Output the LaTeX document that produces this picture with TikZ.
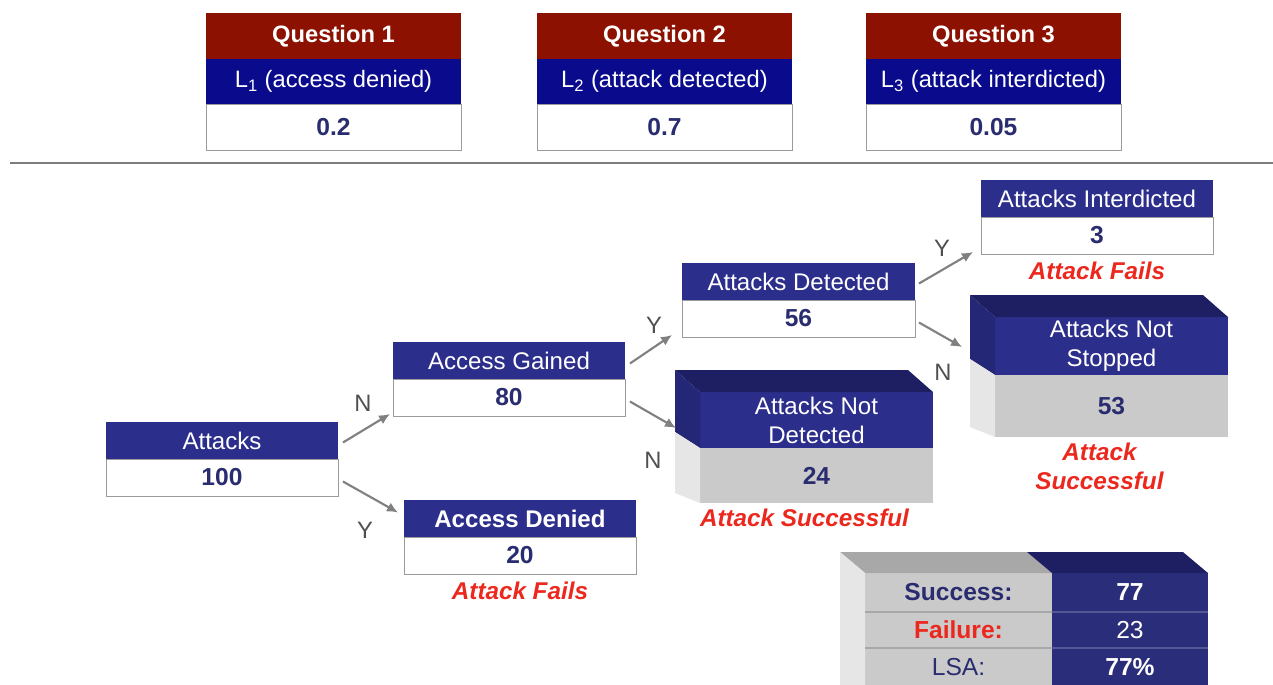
\documentclass[tikz,border=0pt]{standalone}
\usepackage{fontspec}
\setmainfont{Liberation Sans}
\usetikzlibrary{arrows.meta,positioning,calc}

\definecolor{qred}{RGB}{140,17,0}
\definecolor{qblue}{RGB}{10,10,140}
\definecolor{navy}{RGB}{44,46,140}
\definecolor{sumnavy}{RGB}{42,45,122}
\definecolor{navytop}{RGB}{30,31,98}
\definecolor{navyside}{RGB}{36,38,118}
\definecolor{txtnavy}{RGB}{42,44,112}
\definecolor{grayfront}{RGB}{202,202,202}
\definecolor{grayside}{RGB}{230,230,230}
\definecolor{graytop}{RGB}{168,168,168}
\definecolor{linegray}{RGB}{155,155,155}
\definecolor{arrowgray}{RGB}{128,128,128}
\definecolor{ynlabel}{RGB}{80,80,80}
\definecolor{failred}{RGB}{236,40,30}

\tikzset{
  cell/.style={inner sep=0pt, outer sep=0pt, align=center},
  qhead/.style={cell, fill=qred, text=white, font=\fontsize{13.5}{15}\selectfont\bfseries,
    minimum width=5.1cm, minimum height=0.92cm},
  qlab/.style={cell, fill=qblue, text=white, font=\fontsize{13.5}{15}\selectfont,
    minimum width=5.1cm, minimum height=0.9cm},
  qval/.style={cell, fill=white, draw=linegray, text=txtnavy, font=\fontsize{14}{15}\selectfont\bfseries,
    minimum width=5.1cm, minimum height=0.92cm},
  hd/.style={cell, fill=navy, text=white, font=\fontsize{13.7}{16.4}\selectfont,
    minimum width=4.64cm, minimum height=0.74cm},
  val/.style={cell, fill=white, draw=linegray, text=txtnavy, font=\fontsize{14}{16}\selectfont\bfseries,
    minimum width=4.64cm, minimum height=0.74cm},
  front/.style={cell, fill=navy, text=white, font=\fontsize{13.7}{16.4}\selectfont,
    minimum width=4.66cm},
  frontval/.style={cell, fill=grayfront, text=txtnavy, font=\fontsize{14}{16}\selectfont\bfseries,
    minimum width=4.66cm},
  sumlab/.style={cell, fill=grayfront, font=\fontsize{14}{16}\selectfont, minimum width=3.74cm},
  sumval/.style={cell, fill=sumnavy, text=white, font=\fontsize{14}{16}\selectfont, minimum width=3.12cm},
  link/.style={->, draw=arrowgray, line width=1.2pt},
  yn/.style={text=ynlabel, font=\fontsize{13.5}{15}\selectfont},
  fails/.style={text=failred, font=\fontsize{13.8}{16.4}\selectfont\bfseries\itshape, align=center},
}

\begin{document}
\begin{tikzpicture}[x=0.02cm, y=-0.02cm, >={Latex[length=2.2mm,width=2mm]}]
\useasboundingbox[fill=white] (0,0) rectangle (1273,684);

% question boxes
\foreach \x/\i/\lab/\val in {206/1/access denied/0.2, 537/2/attack detected/0.7, 866/3/attack interdicted/0.05}{
  \node[qhead, anchor=north west] (q\i) at (\x,13) {Question \i};
  \node[qlab, below=0pt of q\i] (q\i-l) {L\textsubscript{\i} (\lab)};
  \node[qval, below=0pt of q\i-l] (q\i-v) {\val};
}
\draw[linegray!80!black, line width=1.4pt] (10,163) -- (1273,163);

% tree boxes
\node[hd, anchor=north west] (att) at (106,422) {Attacks};
\node[val, below=0pt of att] (att-v) {100};
\node[hd, anchor=north west] (gain) at (393,342) {Access Gained};
\node[val, below=0pt of gain] (gain-v) {80};
\node[hd, anchor=north west, font=\fontsize{13.7}{16}\selectfont\bfseries] (deny) at (404,500) {Access Denied};
\node[val, below=0pt of deny] (deny-v) {20};
\node[fails, below=1pt of deny-v] (deny-f) {Attack Fails};
\node[hd, anchor=north west, minimum width=4.66cm] (det) at (682,263) {Attacks Detected};
\node[val, below=0pt of det, minimum width=4.66cm] (det-v) {56};
\node[hd, anchor=north west] (intd) at (981,180) {Attacks Interdicted};
\node[val, below=0pt of intd] (intd-v) {3};
\node[fails, below=1pt of intd-v] (intd-f) {Attack Fails};

% 3d boxes
\node[front, anchor=north west, minimum height=1.12cm] (nd) at (700,392) {Attacks Not\\Detected};
\node[frontval, below=0pt of nd, minimum height=1.1cm] (nd-v) {24};
\fill[navytop] (nd.north west) -- ++(-25,-22) -- ($(nd.north east)+(-25,-22)$) -- (nd.north east) -- cycle;
\fill[navyside] (nd.north west) -- ++(-25,-22) -- ($(nd.south west)+(-25,-16)$) -- (nd.south west) -- cycle;
\fill[grayside] (nd.south west) -- ++(-25,-16) -- ($(nd-v.south west)+(-25,-10)$) -- (nd-v.south west) -- cycle;
\node[fails, below=0pt of nd-v, xshift=-0.24cm] (nd-f) {Attack Successful};

\node[front, anchor=north west, minimum height=1.16cm] (ns) at (995,317) {Attacks Not\\Stopped};
\node[frontval, below=0pt of ns, minimum height=1.24cm] (ns-v) {53};
\fill[navytop] (ns.north west) -- ++(-25,-22) -- ($(ns.north east)+(-25,-22)$) -- (ns.north east) -- cycle;
\fill[navyside] (ns.north west) -- ++(-25,-22) -- ($(ns.south west)+(-25,-16)$) -- (ns.south west) -- cycle;
\fill[grayside] (ns.south west) -- ++(-25,-16) -- ($(ns-v.south west)+(-25,-10)$) -- (ns-v.south west) -- cycle;
\node[fails, below=0pt of ns-v, xshift=-0.24cm] (ns-f) {Attack\\Successful};

% summary
\node[sumlab, anchor=north west, minimum height=0.78cm, text=txtnavy, font=\fontsize{14}{16}\selectfont\bfseries] (s1) at (865,573) {Success:};
\node[sumval, right=0pt of s1, minimum height=0.78cm, font=\fontsize{14}{16}\selectfont\bfseries] (s1-v) {77};
\node[sumlab, below=0pt of s1, minimum height=0.72cm, text=failred, font=\fontsize{14}{16}\selectfont\bfseries] (s2) {Failure:};
\node[sumval, right=0pt of s2, minimum height=0.72cm] (s2-v) {23};
\node[sumlab, below=0pt of s2, minimum height=0.76cm, text=txtnavy] (s3) {LSA:};
\node[sumval, right=0pt of s3, minimum height=0.76cm, font=\fontsize{14}{16}\selectfont\bfseries] (s3-v) {77\%};
\fill[graytop] (s1.north west) -- ++(-25,-21) -- ($(s1.north east)+(-25,-21)$) -- (s1.north east) -- cycle;
\fill[navytop] (s1-v.north west) -- ++(-25,-21) -- ($(s1-v.north east)+(-25,-21)$) -- (s1-v.north east) -- cycle;
\fill[grayside] (s1.north west) -- ++(-25,-21) -- ($(s3.south west)+(-25,0)$) -- (s3.south west) -- cycle;
\draw[graytop, line width=0.6pt] (s1.south west) -- (s1.south east) (s2.south west) -- (s2.south east);
\draw[sumnavy!80!white, line width=0.6pt] (s1-v.south west) -- (s1-v.south east) (s2-v.south west) -- (s2-v.south east);

% connectors
\draw[link] ($(att.east)+(5,2)$) -- ($(gain-v.south west)+(-3,-2)$);
\draw[link] ($(att-v.east)+(5,4)$) -- ($(deny.west)+(-6,-6)$);
\draw[link] ($(gain.east)+(5,3)$) -- ($(det-v.south west)+(-10,-2)$);
\draw[link] ($(gain-v.east)+(5,4)$) -- ($(nd.west)+(-24,8)$);
\draw[link] ($(det.east)+(4,2)$) -- ($(intd-v.south west)+(-8,-2)$);
\draw[link] ($(det-v.east)+(4,4)$) -- ($(ns.west)+(-33,1)$);
\node[yn] (n-gain) at (363,403) {N};
\node[yn] (y-deny) at (365,530) {Y};
\node[yn] (y-det) at (654,325) {Y};
\node[yn] (n-nd) at (653,460) {N};
\node[yn] (y-intd) at (942,248) {Y};
\node[yn] (n-ns) at (943,372) {N};
\end{tikzpicture}
\end{document}
